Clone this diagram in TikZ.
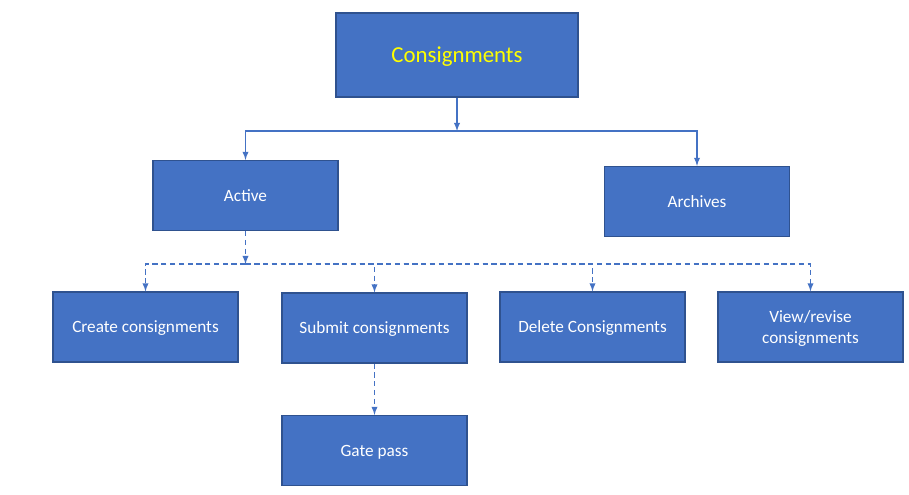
\documentclass[tikz,border=0pt]{standalone}
\usepackage{fontspec}
\setmainfont{Carlito}
\usetikzlibrary{calc}
\usetikzlibrary{arrows,arrows.meta}
\tikzset{>=latex}
\definecolor{boxfill}{HTML}{4472C4}
\definecolor{boxline}{HTML}{2F528F}
\definecolor{titlecol}{HTML}{FFFF00}
\tikzset{
  box/.style={draw=boxline,fill=boxfill,line width=0.7pt,text=white,
    minimum width=3.7cm,minimum height=1.4cm,align=center,text depth=0pt,
    font=\fontsize{9.8}{12.3}\selectfont,inner sep=1pt},
  link/.style={->,draw=boxfill,line width=0.6pt},
  dlink/.style={link,dash pattern=on 3pt off 2pt},
}

\begin{document}
\begin{tikzpicture}[x=0.02cm,y=-0.02cm]
  \useasboundingbox (0,0) rectangle (909,494);
  
  % top level
  \node[box,minimum width=4.84cm,minimum height=1.68cm,text=titlecol,
    font=\fontsize{13}{15}\selectfont] (cons) at (457,55) {Consignments};
  \node[box] (active)  at (245.5,195.5) {Active};
  \node[box] (archive) at (697,201.5) {Archives};
  
  % tasks under active
  \node[box] (create) at (145.5,327) {Create consignments};
  \node[box] (submit) at (374.5,328) {Submit consignments};
  \node[box] (delete) at (592.5,327) {Delete Consignments};
  \node[box] (view)   at (810.5,327) {View/revise\\consignments};
  \node[box] (gate)   at (374.5,450.5) {Gate pass};
  
  \coordinate (J1) at (457,131); % split below consignments
  \coordinate (J2) at (245.5,264); % split below active
  
  \draw[link] (cons) -- (J1);
  \draw[link] (J1) -| (active);
  \draw[link] (J1) -| (archive);
  
  \draw[dlink] (active) -- (J2);
  \foreach \t in {create,submit,delete,view}{
    \draw[dlink] (J2) -| (\t);
  }
  \draw[dlink] (submit) -- (gate);
  
\end{tikzpicture}
\end{document}
